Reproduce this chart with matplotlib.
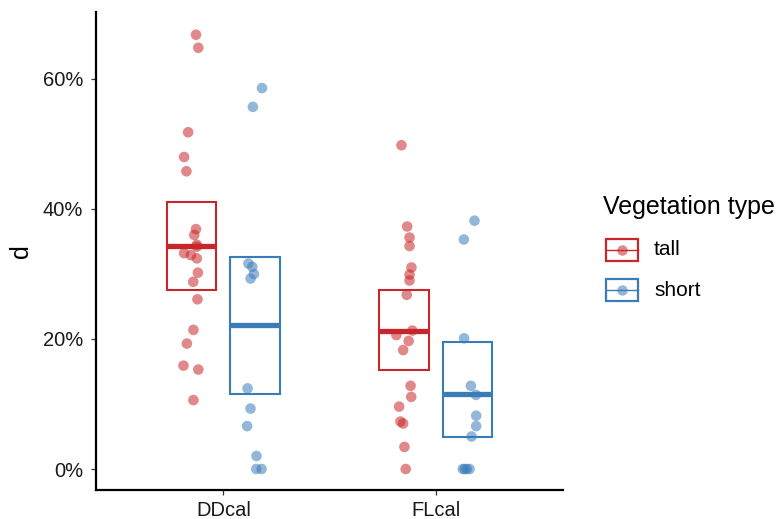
import matplotlib.pyplot as plt
from matplotlib.patches import Rectangle
from matplotlib.lines import Line2D
from matplotlib.ticker import FuncFormatter

plt.rcParams['font.family'] = ['Liberation Sans', 'DejaVu Sans']

sites = ["DDcal", "FLcal"]
veg_types = ["tall", "short"]
colors = {"tall": "#C8262B", "short": "#3A7CB8"}

# observed values (%) per site / vegetation type
d_values = {
    ("DDcal", "tall"): [66.8, 64.8, 51.8, 48.0, 45.8, 36.9, 36.0, 34.5, 34.2, 33.2,
                        32.9, 32.4, 30.2, 28.8, 26.1, 21.4, 19.3, 15.9, 15.3, 10.6],
    ("DDcal", "short"): [58.6, 55.7, 31.6, 31.1, 30.0, 29.3, 12.4, 9.3, 6.6, 2.0, 0.0, 0.0],
    ("FLcal", "tall"): [49.8, 37.3, 35.6, 34.3, 31.0, 29.9, 29.0, 26.8, 21.3, 20.6,
                        19.7, 18.3, 12.8, 11.1, 9.6, 7.3, 7.0, 3.4, 0.0],
    ("FLcal", "short"): [38.2, 35.3, 20.1, 12.8, 11.4, 8.2, 6.6, 5.0, 0.0, 0.0, 0.0, 0.0],
}

# horizontal jitter of each point (offset from the site position)
jitter = {
    ("DDcal", "tall"): [-0.129, -0.118, -0.166, -0.185, -0.174, -0.129, -0.137, -0.125, -0.125, -0.185,
                        -0.153, -0.125, -0.120, -0.142, -0.122, -0.141, -0.172, -0.188, -0.118, -0.141],
    ("DDcal", "short"): [0.182, 0.139, 0.118, 0.136, 0.144, 0.128, 0.114, 0.128, 0.112, 0.156, 0.155, 0.180],
    ("FLcal", "tall"): [-0.161, -0.134, -0.123, -0.123, -0.114, -0.123, -0.123, -0.136, -0.110, -0.185,
                        -0.127, -0.153, -0.118, -0.115, -0.172, -0.166, -0.153, -0.147, -0.141],
    ("FLcal", "short"): [0.183, 0.133, 0.134, 0.166, 0.190, 0.191, 0.191, 0.169, 0.137, 0.160, 0.128, 0.147],
}

# estimate with lower / upper interval (%)
estimate = {("DDcal", "tall"): 34.3, ("DDcal", "short"): 22.1,
            ("FLcal", "tall"): 21.3, ("FLcal", "short"): 11.5}
lower = {("DDcal", "tall"): 27.5, ("DDcal", "short"): 11.5,
         ("FLcal", "tall"): 15.2, ("FLcal", "short"): 4.9}
upper = {("DDcal", "tall"): 41.1, ("DDcal", "short"): 32.6,
         ("FLcal", "tall"): 27.5, ("FLcal", "short"): 19.6}

dodge = {"tall": -0.15, "short": 0.15}
box_w = 0.235

fig = plt.figure(figsize=(7.78, 5.19), dpi=100)
ax = fig.add_axes([96 / 778, 1 - 490 / 519, (563 - 96) / 778, (490 - 12) / 519])

for i, site in enumerate(sites, start=1):
    for veg in veg_types:
        key = (site, veg)
        c = colors[veg]
        xs = [i + j for j in jitter[key]]
        ax.scatter(xs, d_values[key], s=58, color=c, alpha=0.55, edgecolors='none', zorder=3)
        xc = i + dodge[veg]
        ax.add_patch(Rectangle((xc - box_w / 2, lower[key]), box_w, upper[key] - lower[key],
                               fill=False, edgecolor=c, linewidth=1.5, zorder=2))
        ax.plot([xc - box_w / 2, xc + box_w / 2], [estimate[key]] * 2, color=c,
                linewidth=3.8, solid_capstyle='butt', zorder=2)

ax.set_xlim(0.4, 2.6)
ax.set_ylim(-3.23, 70.3)
ax.set_xticks([1, 2])
ax.set_xticklabels(sites)
ax.set_yticks([0, 20, 40, 60])
ax.yaxis.set_major_formatter(FuncFormatter(lambda v, p: f"{v:.0f}%"))
ax.tick_params(labelsize=14.5, length=3.6, width=0.9, color='#333333', labelcolor='#1a1a1a')
ax.tick_params(axis='y', pad=5.5)
ax.tick_params(axis='x', pad=4.5)
for side in ['top', 'right']:
    ax.spines[side].set_visible(False)
for side in ['left', 'bottom']:
    ax.spines[side].set_linewidth(1.6)
ax.set_ylabel("d", fontsize=18)
ax.yaxis.set_label_coords(-0.135, 0.5)

# legend drawn by hand so the keys look like the crossbars
def px(x, y):
    return x / 778, 1 - y / 519

fig.text(*px(603, 207), "Vegetation type", fontsize=18, va='center', ha='left')
for veg, yc, label in [("tall", 250, "tall"), ("short", 290, "short")]:
    c = colors[veg]
    x0, y0 = px(606, yc + 11)
    fig.add_artist(Rectangle((x0, y0), 32 / 778, 22 / 519, fill=False, edgecolor=c,
                             linewidth=1.6, transform=fig.transFigure))
    xa, ya = px(606, yc)
    xb, _ = px(638, yc)
    fig.add_artist(Line2D([xa, xb], [ya, ya], color=c, linewidth=1.0, transform=fig.transFigure))
    xm, _ = px(622, yc)
    fig.add_artist(Line2D([xm], [ya], marker='o', markersize=7.5, color=c, alpha=0.55,
                          markeredgewidth=0, transform=fig.transFigure))
    fig.text(*px(654, yc), label, fontsize=15, va='center', ha='left')

fig.savefig("out.png", dpi=100)
